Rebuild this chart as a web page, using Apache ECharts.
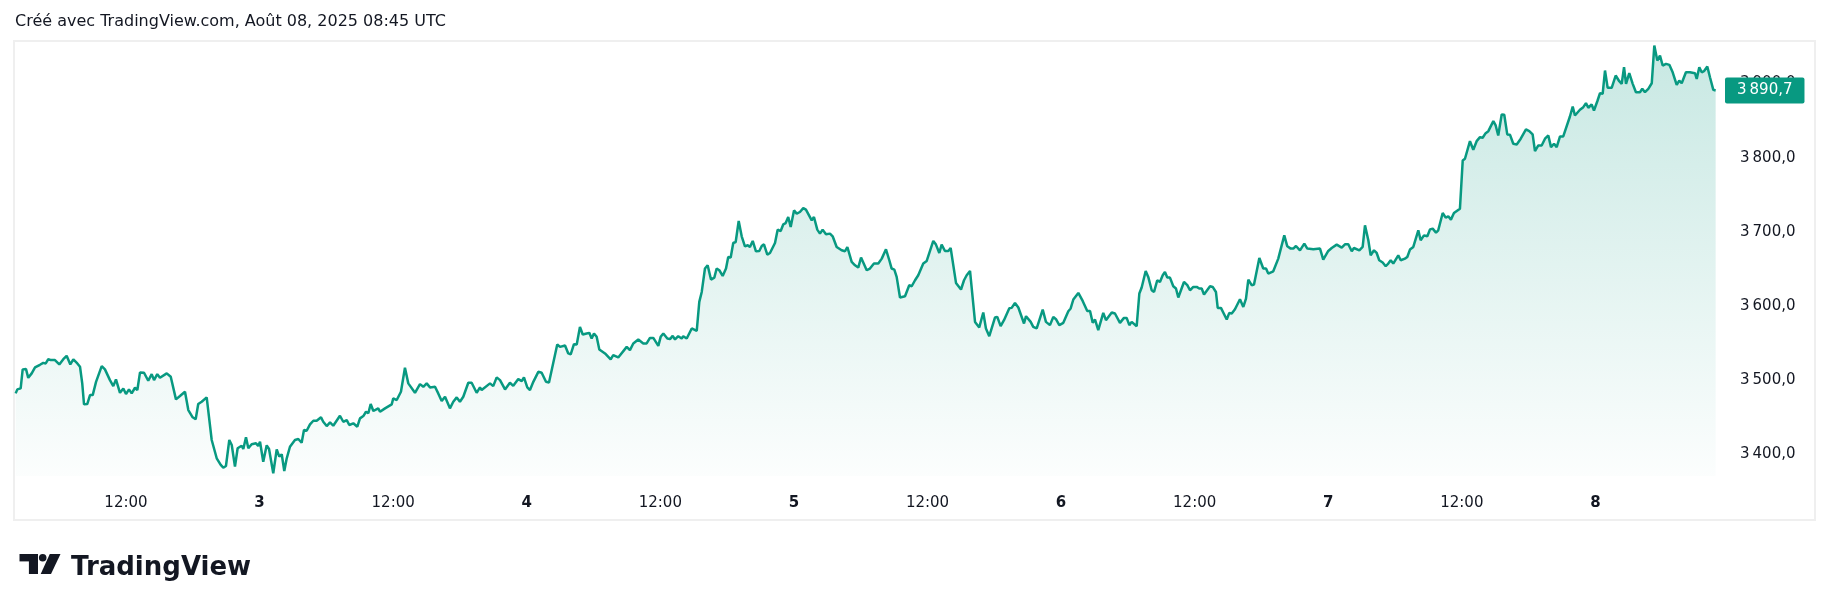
<!DOCTYPE html>
<html>
<head>
<meta charset="utf-8">
<title>ETH - TradingView</title>
<script src="https://cdn.jsdelivr.net/npm/echarts@6/dist/echarts.min.js"></script>
<style>
  html, body { margin: 0; padding: 0; background: #ffffff; }
  #chart { width: 1830px; height: 611px; }
</style>
</head>
<body>
<div id="chart"></div>
<script>
// time of each traced point, in hours since 2 Aug 2025 00:00 (chart time)
const hours = [
  2.09, 2.24, 2.54, 2.72, 3.02, 3.22, 3.53, 3.83, 4.27, 4.57,
  4.79, 5.02, 5.24, 5.62, 6.01, 6.37, 6.67, 6.82, 7.00, 7.27,
  7.63, 7.87, 8.07, 8.23, 8.52, 8.77, 9.01, 9.31, 9.82, 10.11,
  10.56, 10.86, 11.10, 11.46, 11.76, 12.00, 12.27, 12.51, 12.81, 13.02,
  13.26, 13.62, 14.00, 14.31, 14.52, 14.81, 15.05, 15.66, 16.02, 16.49,
  16.85, 17.30, 17.60, 17.99, 18.26, 18.49, 18.80, 19.25, 19.39, 19.70,
  20.15, 20.51, 20.74, 20.98, 21.28, 21.50, 21.79, 22.03, 22.39, 22.54,
  22.78, 22.99, 23.29, 23.68, 23.88, 24.04, 24.33, 24.64, 24.85, 25.23,
  25.54, 25.77, 25.99, 26.22, 26.44, 26.73, 27.18, 27.48, 27.78, 27.99,
  28.23, 28.53, 28.83, 29.13, 29.52, 29.72, 30.03, 30.33, 30.62, 31.22,
  31.52, 31.83, 32.06, 32.42, 32.78, 33.02, 33.32, 33.56, 33.77, 33.98,
  34.22, 34.66, 34.82, 35.27, 35.87, 36.01, 36.32, 36.70, 37.06, 37.36,
  37.96, 38.41, 38.71, 39.01, 39.31, 39.76, 40.05, 40.36, 40.66, 41.10,
  41.40, 41.71, 42.00, 42.30, 42.75, 43.05, 43.50, 43.80, 43.95, 44.70,
  44.99, 45.30, 45.60, 46.05, 46.49, 46.79, 47.24, 47.55, 47.75, 48.05,
  48.29, 48.59, 49.04, 49.34, 49.73, 50.00, 50.74, 50.99, 51.44, 51.73,
  51.95, 52.24, 52.49, 52.78, 53.03, 53.38, 53.62, 53.83, 54.04, 54.28,
  54.52, 55.03, 55.54, 55.77, 56.22, 56.98, 57.27, 57.57, 58.02, 58.47,
  58.77, 59.07, 59.37, 59.82, 60.03, 60.27, 60.63, 60.87, 61.11, 61.32,
  61.61, 61.92, 62.06, 62.37, 62.82, 63.27, 63.50, 63.72, 64.01, 64.25,
  64.55, 64.85, 65.06, 65.30, 65.60, 65.90, 66.10, 66.32, 66.55, 66.77,
  67.04, 67.31, 67.60, 67.85, 68.05, 68.30, 68.59, 68.89, 69.11, 69.31,
  69.61, 69.85, 70.30, 70.54, 70.81, 71.05, 71.26, 71.49, 71.71, 72.01,
  72.25, 72.54, 72.84, 73.08, 73.60, 73.80, 74.10, 74.34, 74.58, 74.88,
  75.24, 75.48, 75.84, 76.29, 76.59, 76.80, 77.19, 77.49, 77.78, 78.03,
  78.54, 78.83, 79.19, 79.58, 79.89, 80.27, 80.57, 80.78, 81.02, 81.23,
  81.53, 81.98, 82.36, 82.58, 82.88, 83.17, 83.62, 83.93, 84.07, 84.52,
  84.76, 85.06, 85.27, 85.57, 85.87, 86.08, 86.56, 87.01, 87.28, 87.52,
  87.82, 88.27, 88.65, 89.01, 89.25, 89.55, 90.06, 90.27, 90.57, 90.87,
  91.35, 91.56, 91.86, 92.16, 92.67, 92.85, 93.27, 93.50, 93.81, 94.35,
  94.64, 95.00, 95.30, 95.54, 95.84, 96.20, 96.65, 96.86, 97.10, 97.55,
  97.94, 98.35, 98.60, 98.84, 99.05, 99.34, 99.79, 100.03, 100.55, 100.84,
  101.29, 101.65, 101.89, 102.13, 102.34, 102.79, 103.03, 103.24, 103.60, 103.83,
  104.14, 104.35, 104.64, 104.88, 105.13, 105.33, 105.54, 105.78, 106.08, 106.32,
  106.53, 107.04, 107.34, 107.58, 107.88, 108.18, 108.41, 108.63, 108.84, 109.38,
  109.62, 109.91, 110.07, 110.36, 110.52, 110.88, 111.11, 111.33, 111.62, 112.07,
  112.37, 112.61, 112.82, 113.12, 113.33, 113.81, 114.16, 114.41, 114.61, 115.06,
  115.51, 116.05, 116.32, 116.63, 116.86, 117.10, 117.46, 117.61, 117.85, 118.12,
  118.66, 119.26, 119.55, 120.00, 120.31, 120.45, 120.76, 121.21, 121.50, 121.80,
  122.11, 122.31, 122.79, 123.09, 123.30, 123.60, 123.81, 124.11, 124.35, 124.58,
  124.89, 125.16, 125.39, 125.61, 125.84, 126.29, 126.51, 126.89, 127.10, 127.34,
  127.64, 128.09, 128.30, 128.60, 128.90, 129.14, 129.38, 129.68, 129.88, 130.28,
  130.55, 130.78, 131.02, 131.29, 131.83, 132.08, 132.28, 132.73, 133.03, 133.33,
  133.63, 133.87, 134.14, 134.38, 134.83, 135.04, 135.27, 135.58, 135.81, 136.08,
  136.33, 136.62, 136.93, 137.29, 137.76, 138.06, 138.36, 138.57, 138.87, 139.17,
  139.47, 139.77, 140.01, 140.28, 140.52, 140.82, 141.11, 141.71, 141.96, 142.16,
  142.61, 142.91, 143.15, 143.36, 143.66, 143.87, 144.17, 144.41, 144.65, 144.86,
  145.10, 145.46, 145.82, 146.14, 146.36, 146.57, 146.75, 147.04, 147.35, 147.64,
  148.00, 148.21, 148.45, 148.75, 149.06, 149.29, 149.56, 149.80, 150.04, 150.34,
  150.64, 150.94, 151.30, 151.53, 151.75, 152.13, 152.49, 152.65, 152.94, 153.10,
  153.33, 153.55, 153.75, 154.05, 154.29, 154.59, 154.80
];

// price at each of those points
const prices = [
  3481.8, 3487.2, 3488.5, 3514.2, 3514.6, 3502.8, 3508.8, 3516.8, 3520.4, 3523.0,
  3522.2, 3528.0, 3526.7, 3526.7, 3520.9, 3528.0, 3532.5, 3532.5, 3520.9, 3527.6,
  3522.2, 3517.7, 3495.3, 3467.0, 3467.4, 3479.5, 3479.5, 3497.4, 3518.6, 3514.2,
  3499.7, 3491.6, 3500.7, 3482.6, 3488.5, 3480.9, 3487.2, 3481.8, 3489.4, 3486.3,
  3510.1, 3509.6, 3498.8, 3507.8, 3499.7, 3507.8, 3502.8, 3508.8, 3504.2, 3473.7,
  3478.2, 3484.0, 3459.3, 3449.5, 3446.8, 3467.4, 3470.5, 3476.4, 3475.1, 3418.9,
  3394.2, 3385.2, 3381.5, 3383.8, 3418.9, 3412.1, 3382.9, 3407.7, 3411.2, 3406.7,
  3422.5, 3407.7, 3413.1, 3414.4, 3410.8, 3416.6, 3389.6, 3411.7, 3406.7, 3374.0,
  3406.3, 3396.4, 3399.6, 3377.1, 3394.2, 3409.8, 3418.9, 3420.2, 3415.2, 3432.3,
  3431.4, 3440.0, 3444.9, 3444.9, 3449.5, 3443.5, 3437.7, 3442.7, 3438.1, 3451.6,
  3443.5, 3445.8, 3439.1, 3441.4, 3436.8, 3448.1, 3451.2, 3457.0, 3454.9, 3467.4,
  3458.0, 3461.6, 3457.0, 3461.6, 3467.0, 3475.1, 3472.8, 3484.0, 3516.3, 3495.3,
  3482.6, 3494.3, 3490.7, 3495.3, 3489.9, 3490.7, 3481.8, 3471.4, 3477.2, 3461.6,
  3470.5, 3476.4, 3470.5, 3477.2, 3496.1, 3496.1, 3482.6, 3489.9, 3486.3, 3495.3,
  3491.6, 3503.4, 3499.7, 3487.2, 3496.1, 3492.0, 3501.1, 3498.4, 3503.4, 3489.9,
  3486.3, 3497.4, 3510.9, 3509.6, 3497.4, 3496.6, 3547.8, 3544.6, 3546.5, 3535.7,
  3534.4, 3548.2, 3547.8, 3571.6, 3561.3, 3562.7, 3563.5, 3555.9, 3562.7, 3558.1,
  3541.1, 3535.7, 3527.6, 3533.4, 3530.3, 3544.6, 3540.2, 3549.2, 3554.6, 3549.2,
  3549.2, 3556.7, 3556.7, 3546.0, 3558.1, 3562.7, 3555.9, 3555.0, 3559.4, 3554.6,
  3559.0, 3555.9, 3559.0, 3555.9, 3569.4, 3566.2, 3605.3, 3618.7, 3650.3, 3654.7,
  3635.4, 3638.1, 3650.3, 3648.0, 3640.3, 3650.3, 3665.9, 3665.1, 3684.8, 3686.1,
  3714.4, 3693.8, 3680.3, 3681.7, 3679.4, 3687.5, 3673.6, 3674.0, 3680.7, 3683.0,
  3669.1, 3671.3, 3684.8, 3702.8, 3700.9, 3710.0, 3711.7, 3719.8, 3706.3, 3728.8,
  3724.4, 3726.6, 3731.9, 3729.8, 3715.4, 3719.8, 3702.8, 3697.4, 3702.8, 3696.5,
  3697.4, 3693.8, 3679.4, 3674.9, 3673.6, 3679.4, 3659.2, 3654.7, 3651.6, 3665.1,
  3648.0, 3650.3, 3657.0, 3657.0, 3663.7, 3676.3, 3661.5, 3650.3, 3648.9, 3639.0,
  3611.2, 3612.9, 3627.8, 3626.4, 3634.5, 3641.2, 3657.0, 3660.5, 3661.5, 3687.5,
  3682.6, 3671.3, 3682.6, 3674.0, 3674.0, 3678.0, 3630.9, 3622.0, 3634.5, 3641.2,
  3647.0, 3578.3, 3570.8, 3591.0, 3569.4, 3559.0, 3584.2, 3585.0, 3572.5, 3580.6,
  3596.8, 3597.2, 3603.9, 3597.7, 3576.1, 3586.0, 3578.3, 3571.6, 3569.4, 3595.0,
  3578.3, 3573.9, 3585.0, 3581.9, 3573.9, 3577.0, 3592.7, 3596.4, 3608.5, 3617.4,
  3606.6, 3593.1, 3593.1, 3577.0, 3581.5, 3567.1, 3590.4, 3580.6, 3591.0, 3589.6,
  3577.0, 3583.7, 3583.7, 3573.9, 3578.3, 3572.5, 3616.6, 3624.7, 3647.0, 3639.0,
  3621.0, 3618.7, 3634.5, 3632.2, 3641.2, 3645.7, 3638.1, 3638.1, 3626.4, 3623.3,
  3611.2, 3632.2, 3627.8, 3621.0, 3625.5, 3625.5, 3623.3, 3623.3, 3615.2, 3626.4,
  3625.5, 3618.7, 3597.2, 3597.2, 3595.0, 3581.5, 3590.4, 3589.6, 3595.4, 3608.9,
  3598.5, 3609.8, 3635.4, 3627.8, 3628.7, 3664.6, 3650.3, 3650.3, 3643.5, 3646.6,
  3663.7, 3695.1, 3680.3, 3677.2, 3677.2, 3680.7, 3674.9, 3673.6, 3684.0, 3677.2,
  3676.3, 3677.2, 3662.4, 3674.0, 3678.0, 3676.3, 3682.6, 3678.6, 3683.0, 3683.0,
  3673.6, 3678.0, 3674.9, 3679.4, 3708.6, 3688.4, 3668.2, 3674.9, 3671.3, 3661.5,
  3658.4, 3653.4, 3657.0, 3661.5, 3657.0, 3668.2, 3661.5, 3663.7, 3665.9, 3675.9,
  3679.4, 3701.9, 3688.4, 3695.1, 3693.8, 3703.2, 3704.2, 3698.8, 3701.9, 3725.2,
  3719.0, 3720.8, 3716.3, 3725.2, 3731.1, 3796.2, 3798.5, 3822.2, 3810.6, 3822.2,
  3827.6, 3826.8, 3833.0, 3835.7, 3849.2, 3843.4, 3829.9, 3858.2, 3857.8, 3831.3,
  3830.8, 3818.7, 3817.8, 3825.5, 3838.0, 3835.7, 3831.3, 3808.8, 3816.4, 3816.4,
  3825.5, 3829.9, 3814.2, 3818.7, 3814.2, 3828.6, 3828.6, 3855.5, 3869.0, 3856.9,
  3864.6, 3868.1, 3873.5, 3867.3, 3871.7, 3863.6, 3876.1, 3886.9, 3886.1, 3917.5,
  3894.2, 3894.2, 3910.8, 3903.1, 3899.6, 3922.0, 3899.6, 3913.9, 3899.6, 3888.3,
  3888.3, 3892.9, 3888.3, 3892.9, 3900.4, 3951.2, 3931.0, 3937.7, 3924.3, 3926.6,
  3925.2, 3915.2, 3898.2, 3904.0, 3900.4, 3915.2, 3915.2, 3913.1, 3913.9, 3906.3,
  3922.0, 3915.2, 3916.6, 3922.9, 3908.5, 3891.5, 3890.7
];

// time axis ticks (hours since 2 Aug 00:00) and their labels
const tickHours = [12, 24, 36, 48, 60, 72, 84, 96, 108, 120, 132, 144];
const tickLabels = ['12:00', '3', '12:00', '4', '12:00', '5', '12:00', '6', '12:00', '7', '12:00', '8'];

// price scale ticks
const priceTicks = [3400, 3500, 3600, 3700, 3800, 3900];
const lastPrice = 3890.7;

const green = '#089981';
const ink = '#131722';
const font = 'DejaVu Sans';

function fmtPrice(v) {
  const parts = v.toFixed(1).split('.');
  return parts[0].replace(/\B(?=(\d{3})+(?!\d))/g, '\u2009') + ',' + parts[1];
}

const chart = echarts.init(document.getElementById('chart'));

const option = {
  animation: false,
  backgroundColor: '#ffffff',
  grid: { left: 15, right: 106, top: 41, bottom: 135 },
  xAxis: {
    type: 'value',
    min: 2.03,
    max: 155.55,
    axisLine: { show: false },
    axisTick: { show: false },
    splitLine: { show: false },
    axisLabel: {
      customValues: tickHours,
      margin: 19,
      formatter: function (v) {
        const lab = tickLabels[tickHours.indexOf(v)];
        return lab.indexOf(':') >= 0 ? '{h|' + lab + '}' : '{d|' + lab + '}';
      },
      rich: {
        h: { color: ink, fontSize: 15, fontFamily: font, lineHeight: 16 },
        d: { color: ink, fontSize: 15, fontFamily: font, fontWeight: 'bold', lineHeight: 16 }
      }
    }
  },
  yAxis: {
    type: 'value',
    position: 'right',
    min: 3370.3,
    max: 3957.4,
    axisLine: { show: false },
    axisTick: { show: false },
    splitLine: { show: false },
    axisLabel: {
      customValues: priceTicks,
      margin: 16,
      color: ink,
      fontSize: 15,
      fontFamily: font,
      formatter: fmtPrice
    }
  },
  series: [
    {
      type: 'line',
      data: hours.map((h, i) => [h, prices[i]]),
      symbol: 'none',
      showSymbol: false,
      lineStyle: { color: green, width: 2.5 },
      itemStyle: { color: green },
      areaStyle: {
        color: new echarts.graphic.LinearGradient(0, 0, 0, 1, [
          { offset: 0, color: 'rgba(8,153,129,0.32)' },
          { offset: 1, color: 'rgba(8,153,129,0.02)' }
        ])
      },
      markLine: {
        silent: true,
        symbol: ['none', 'none'],
        lineStyle: { color: 'rgba(8,153,129,0)', width: 0 },
        label: {
          show: true,
          position: 'end',
          distance: 1,
          formatter: fmtPrice(lastPrice),
          color: '#ffffff',
          backgroundColor: green,
          padding: [5, 12, 5, 12],
          borderRadius: 2,
          fontSize: 15,
          fontFamily: font,
          lineHeight: 16
        },
        data: [{ yAxis: lastPrice }]
      }
    }
  ],
  graphic: [
    {
      type: 'text',
      left: 15,
      top: 14,
      style: { text: 'Créé avec TradingView.com, Août 08, 2025 08:45 UTC', fill: ink, font: '16px ' + font }
    },
    {
      type: 'rect',
      shape: { x: 14, y: 41, width: 1801, height: 479 },
      style: { fill: 'none', stroke: '#efefef', lineWidth: 2 },
      z: -1
    },
    // TradingView logo
    { type: 'rect', shape: { x: 19.5, y: 554, width: 18.5, height: 7.4 }, style: { fill: ink } },
    { type: 'rect', shape: { x: 28.9, y: 554, width: 9.1, height: 20 }, style: { fill: ink } },
    { type: 'circle', shape: { cx: 42.7, cy: 557.7, r: 3.8 }, style: { fill: ink } },
    { type: 'polygon', shape: { points: [[49.8, 554], [60.5, 554], [51, 574], [40.7, 574]] }, style: { fill: ink } },
    {
      type: 'text',
      left: 71,
      top: 555,
      style: { text: 'TradingView', fill: ink, font: 'bold 26px ' + font }
    }
  ]
};

chart.setOption(option);
</script>
</body>
</html>
